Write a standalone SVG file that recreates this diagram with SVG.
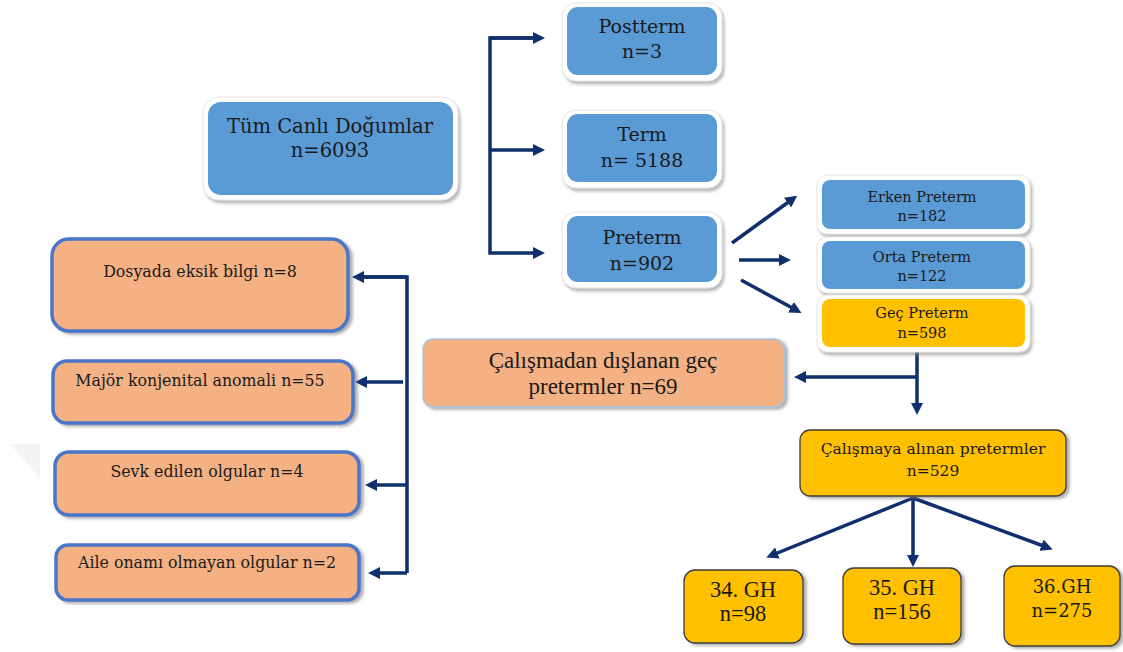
<svg xmlns="http://www.w3.org/2000/svg" width="1123" height="652" viewBox="0 0 1123 652">
<defs>
<style>
.frame{fill:#ffffff;stroke:#e6e6e6;stroke-width:1;filter:url(#sh)}
.blue{fill:#5b9bd5}
.gold{fill:#ffc000}
.sal{fill:#f4b183;stroke:#4a76c8;stroke-width:3.5;filter:url(#sh2)}
.sal2{fill:#f4b183;stroke:#a9c6e8;stroke-width:1.5;filter:url(#sh2)}
.gbox{fill:#ffc000;stroke:#3c3c3c;stroke-width:1.3;filter:url(#sh2)}
.t{font-family:"DejaVu Serif",serif;fill:#1a1a1a;text-anchor:middle}
.tr{font-family:"Liberation Serif",serif;fill:#1a1a1a;text-anchor:middle}
.c{fill:none;stroke:#102f6d;stroke-width:3.5}
</style>
<filter id="sh" x="-10%" y="-10%" width="125%" height="130%">
<feDropShadow dx="2" dy="3" stdDeviation="1.5" flood-color="#8a8a8a" flood-opacity="0.6"/>
</filter>
<filter id="sh2" x="-10%" y="-10%" width="125%" height="130%">
<feDropShadow dx="3" dy="2" stdDeviation="1.5" flood-color="#6a6a6a" flood-opacity="0.55"/>
</filter>
<marker id="ah" viewBox="0 0 12 12" markerWidth="12" markerHeight="12" refX="8" refY="6" orient="auto" markerUnits="userSpaceOnUse">
<path d="M0,0 L12,6 L0,12 z" fill="#102f6d"/>
</marker>
</defs>
<rect width="1123" height="652" fill="#ffffff"/>
<polygon points="10,444 40,444 40,478" fill="#f4f4f4"/>

<g id="connectors">
<path class="c" d="M541,38 H490 V253 H541" marker-end="url(#ah)"/>
<path class="c" d="M490,38 H541" marker-end="url(#ah)"/>
<path class="c" d="M490,150 H541" marker-end="url(#ah)"/>
<line class="c" x1="732" y1="243" x2="794" y2="198" marker-end="url(#ah)"/>
<line class="c" x1="739" y1="260" x2="787" y2="260" marker-end="url(#ah)"/>
<line class="c" x1="741" y1="280" x2="798" y2="311" marker-end="url(#ah)"/>
<line class="c" x1="917" y1="352" x2="917" y2="411" marker-end="url(#ah)"/>
<line class="c" x1="917" y1="377" x2="798" y2="377" marker-end="url(#ah)"/>
<path class="c" d="M356,277 H407 V573"/>
<line class="c" x1="407" y1="277" x2="356" y2="277" marker-end="url(#ah)"/>
<line class="c" x1="403" y1="382" x2="359" y2="382" marker-end="url(#ah)"/>
<line class="c" x1="407" y1="485" x2="369" y2="485" marker-end="url(#ah)"/>
<line class="c" x1="407" y1="573" x2="372" y2="573" marker-end="url(#ah)"/>
<line class="c" x1="913" y1="498" x2="770" y2="556" marker-end="url(#ah)"/>
<line class="c" x1="913" y1="498" x2="913" y2="563" marker-end="url(#ah)"/>
<line class="c" x1="913" y1="498" x2="1049" y2="548" marker-end="url(#ah)"/>
</g>

<g id="tum">
<rect class="frame" x="203" y="97" width="255" height="103" rx="16"/>
<rect class="blue" x="208" y="102" width="245" height="93" rx="13"/>
<text class="t" x="330" y="133" font-size="19.5">Tüm Canlı Doğumlar</text>
<text class="t" x="330" y="157" font-size="19.5">n=6093</text>
</g>

<g id="postterm">
<rect class="frame" x="562" y="3" width="160" height="78" rx="14"/>
<rect class="blue" x="567" y="7" width="150" height="68" rx="11"/>
<text class="t" x="642" y="33" font-size="19">Postterm</text>
<text class="t" x="642" y="58" font-size="19">n=3</text>
</g>

<g id="term">
<rect class="frame" x="562" y="110" width="160" height="78" rx="14"/>
<rect class="blue" x="567" y="114" width="150" height="68" rx="11"/>
<text class="t" x="642" y="141" font-size="19">Term</text>
<text class="t" x="642" y="167" font-size="19">n= 5188</text>
</g>

<g id="preterm">
<rect class="frame" x="562" y="212" width="160" height="76" rx="14"/>
<rect class="blue" x="567" y="216" width="150" height="66" rx="11"/>
<text class="t" x="642" y="244" font-size="19">Preterm</text>
<text class="t" x="642" y="270" font-size="19">n=902</text>
</g>

<g id="erken">
<rect class="frame" x="817" y="175" width="213" height="59" rx="10"/>
<rect class="blue" x="822" y="180" width="203" height="49" rx="8"/>
<text class="t" x="922" y="202" font-size="14.5">Erken Preterm</text>
<text class="t" x="922" y="221" font-size="14.5">n=182</text>
</g>

<g id="orta">
<rect class="frame" x="817" y="237" width="213" height="56" rx="10"/>
<rect class="blue" x="822" y="241" width="203" height="48" rx="8"/>
<text class="t" x="922" y="262" font-size="14.5">Orta Preterm</text>
<text class="t" x="922" y="281" font-size="14.5">n=122</text>
</g>

<g id="gec">
<rect class="frame" x="817" y="295" width="213" height="57" rx="10"/>
<rect class="gold" x="822" y="299" width="203" height="48" rx="8"/>
<text class="t" x="922" y="318" font-size="14.5">Geç Preterm</text>
<text class="t" x="922" y="338" font-size="14.5">n=598</text>
</g>

<g id="dosyada">
<rect class="sal" x="52" y="239" width="296" height="92" rx="17"/>
<text class="t" x="200" y="277" font-size="15.8">Dosyada eksik bilgi n=8</text>
</g>

<g id="major">
<rect class="sal" x="53" y="361" width="300" height="62" rx="14"/>
<text class="t" x="200" y="386" font-size="15.8">Majör konjenital anomali n=55</text>
</g>

<g id="sevk">
<rect class="sal" x="55" y="452" width="304" height="63" rx="14"/>
<text class="t" x="207" y="477" font-size="15.8">Sevk edilen olgular n=4</text>
</g>

<g id="aile">
<rect class="sal" x="56" y="545" width="303" height="55" rx="12"/>
<text class="t" x="207" y="568" font-size="15.8">Aile onamı olmayan olgular n=2</text>
</g>

<g id="dislanan">
<rect class="sal2" x="423" y="339" width="361" height="68" rx="10"/>
<text class="tr" x="603" y="368" font-size="23">Çalışmadan dışlanan geç</text>
<text class="tr" x="603" y="394" font-size="23">pretermler n=69</text>
</g>

<g id="alinan">
<rect class="gbox" x="800" y="430" width="266" height="66" rx="10"/>
<text class="t" x="933" y="454" font-size="15.5">Çalışmaya alınan pretermler</text>
<text class="t" x="933" y="476" font-size="15.5">n=529</text>
</g>

<g id="gh34">
<rect class="gbox" x="684" y="570" width="119" height="73" rx="11"/>
<text class="tr" x="743" y="597" font-size="22.5">34. GH</text>
<text class="tr" x="743" y="621" font-size="22.5">n=98</text>
</g>

<g id="gh35">
<rect class="gbox" x="843" y="568" width="118" height="76" rx="11"/>
<text class="tr" x="902" y="595" font-size="22.5">35. GH</text>
<text class="tr" x="902" y="619" font-size="22.5">n=156</text>
</g>

<g id="gh36">
<rect class="gbox" x="1004" y="566" width="116" height="80" rx="11"/>
<text class="t" x="1062" y="593" font-size="18">36.GH</text>
<text class="t" x="1062" y="617" font-size="18">n=275</text>
</g>
</svg>
